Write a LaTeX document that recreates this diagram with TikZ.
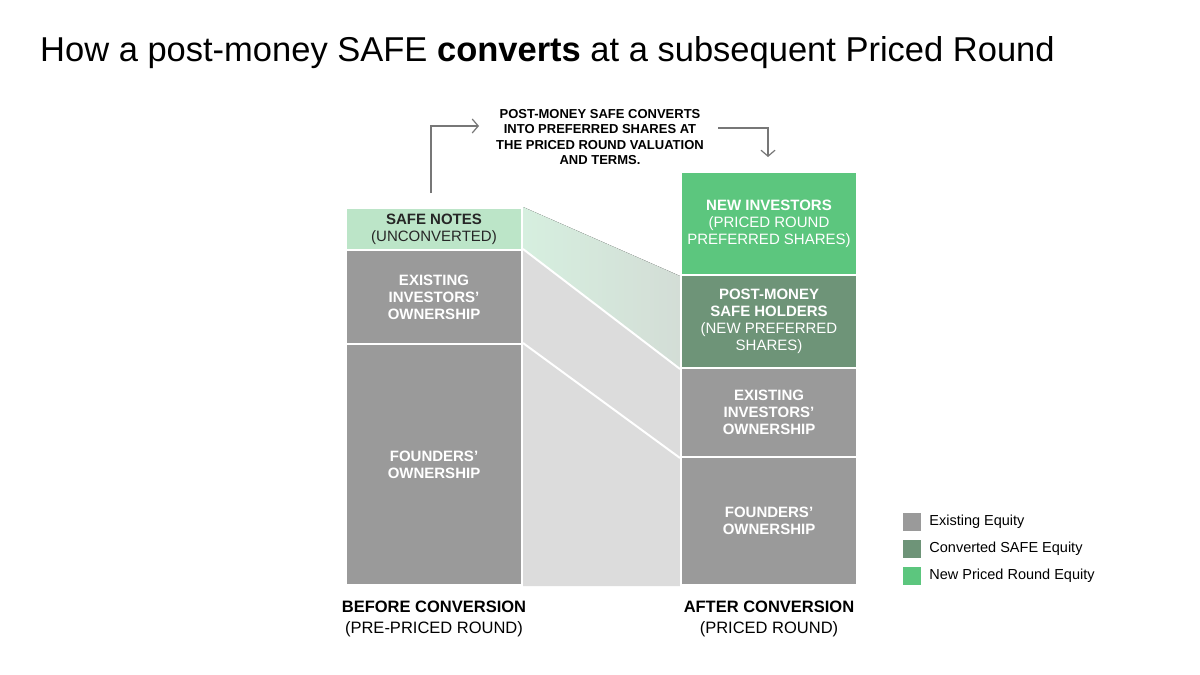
\documentclass[tikz,border=0pt]{standalone}
\usepackage{fontspec}
\setmainfont{Liberation Sans}
\usetikzlibrary{positioning,arrows.meta,backgrounds}
\definecolor{eqgrey}{HTML}{9A9A9A}
\definecolor{bandgrey}{HTML}{DCDCDC}
\definecolor{bandleft}{HTML}{D6EFDF}
\definecolor{bandright}{HTML}{D3DDD6}
\definecolor{safelight}{HTML}{BCE5C8}
\definecolor{safedark}{HTML}{6E9478}
\definecolor{newgreen}{HTML}{5CC67E}
\definecolor{arrgrey}{HTML}{777777}

\begin{document}
\begin{tikzpicture}[x=1pt,y=-1pt,
    blk/.style={draw=white,line width=2pt,minimum width=176pt,inner sep=0pt,
      anchor=north west,text=white,align=center,font=\fontsize{15}{17}\selectfont},
    flow/.style={arrgrey,line width=1.2pt,-{Straight Barb[length=6pt,width=14pt]}},
    sep/.style={white,line width=2pt}]
\useasboundingbox (0,0) rectangle (1200,675);

% title
\node[anchor=west,inner sep=0pt,font=\fontsize{34.5}{40}\selectfont] (title) at (40,53)
    {How a post-money SAFE \textbf{converts} at a subsequent Priced Round};

% before conversion
\node[blk,fill=safelight,text=black!85,minimum height=42pt] (safeL) at (345,207)
    {\textbf{SAFE NOTES}\\(UNCONVERTED)};
\node[blk,fill=eqgrey,minimum height=94pt] (exL) at (345,249)
    {\textbf{EXISTING}\\\textbf{INVESTORS’}\\\textbf{OWNERSHIP}};
\node[blk,fill=eqgrey,minimum height=241pt] (fdL) at (345,343)
    {\textbf{FOUNDERS’}\\\textbf{OWNERSHIP}};

% after conversion
\node[blk,fill=newgreen,minimum height=103pt] (newR) at (680,171)
    {\textbf{NEW INVESTORS}\\(PRICED ROUND\\PREFERRED SHARES)};
\node[blk,fill=safedark,minimum height=93pt] (postR) at (680,274)
    {\textbf{POST-MONEY}\\\textbf{SAFE HOLDERS}\\(NEW PREFERRED\\SHARES)};
\node[blk,fill=eqgrey,minimum height=89pt] (exR) at (680,367)
    {\textbf{EXISTING}\\\textbf{INVESTORS’}\\\textbf{OWNERSHIP}};
\node[blk,fill=eqgrey,minimum height=128pt] (fdR) at (680,456)
    {\textbf{FOUNDERS’}\\\textbf{OWNERSHIP}};

% bands
\begin{scope}[on background layer]
\fill[white] (0,0) rectangle (1200,675);
\fill[left color=bandleft,right color=bandright]
    (safeL.north east) -- (newR.south west) -- (postR.south west) -- (exL.north east) -- cycle;
\fill[bandgrey] (exL.north east) -- (postR.south west) -- (fdR.south west) -- (fdL.south east) -- cycle;
\end{scope}
\draw[sep] (exL.north east) -- (postR.south west);
\draw[sep] (fdL.north east) -- (exR.south west);

% note and arrows
\node[font=\fontsize{13}{15.3}\selectfont\bfseries,align=center] (note) at (600,137)
    {POST-MONEY SAFE CONVERTS\\INTO PREFERRED SHARES AT\\THE PRICED ROUND VALUATION\\AND TERMS.};
\coordinate (upL) at (431,193);
\coordinate (toNote) at (479,126);
\coordinate (fromNote) at (718,128);
\coordinate (downR) at (768,157);
\draw[flow] (upL) |- (toNote);
\draw[flow] (fromNote) -| (downR);

% column labels
\node[below=11pt of fdL,align=center,font=\fontsize{16.5}{21}\selectfont] (beforeLbl)
    {\textbf{BEFORE CONVERSION}\\(PRE-PRICED ROUND)};
\node[below=11pt of fdR,align=center,font=\fontsize{16.5}{21}\selectfont] (afterLbl)
    {\textbf{AFTER CONVERSION}\\(PRICED ROUND)};

% legend
\foreach \c/\t [count=\i] in {eqgrey/Existing Equity,safedark/Converted SAFE Equity,newgreen/New Priced Round Equity}
{
  \node[fill=\c,minimum size=18pt,inner sep=0pt] (legbox\i) at (912,495+27*\i) {};
  \node[right=8pt of legbox\i,inner sep=0pt,font=\fontsize{14.5}{16}\selectfont] (legtext\i) {\t};
}
\end{tikzpicture}
\end{document}
